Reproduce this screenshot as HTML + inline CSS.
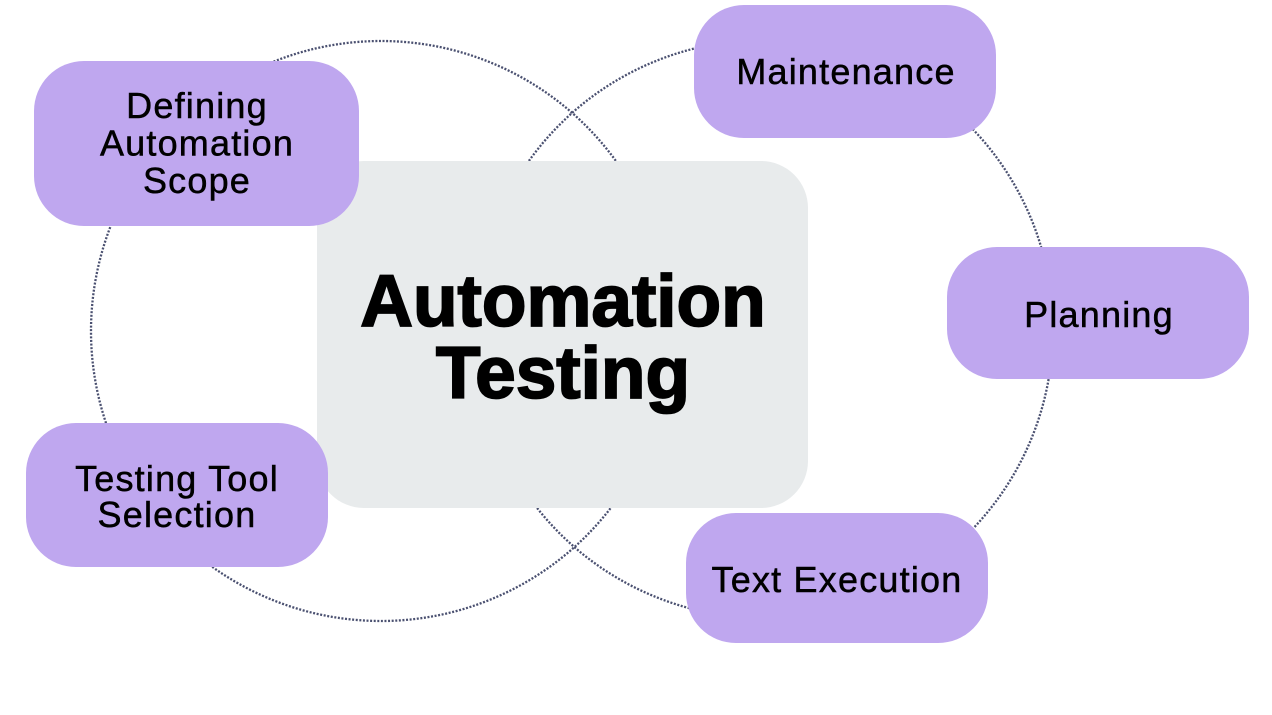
<!DOCTYPE html>
<html>
<head>
<meta charset="utf-8">
<style>
  html, body { margin: 0; padding: 0; background: #ffffff; }
  body { width: 1272px; height: 715px; overflow: hidden; }
  svg { display: block; }
  .lbl { font-family: "Liberation Sans", sans-serif; font-size: 36px; fill: #000; stroke: #000; stroke-width: 0.5px; letter-spacing: 1.2px; }
  .big { font-family: "Liberation Sans", sans-serif; font-size: 73px; font-weight: bold; fill: #000; stroke: #000; stroke-width: 1.8px; }
</style>
</head>
<body>
<svg width="1272" height="715" viewBox="0 0 1272 715" xmlns="http://www.w3.org/2000/svg">
  <rect x="0" y="0" width="1272" height="715" fill="#ffffff"/>
  <!-- dotted circles -->
  <circle cx="381" cy="331" r="290" fill="none" stroke="#4a5070" stroke-width="2.3" stroke-dasharray="2 1.6"/>
  <circle cx="764" cy="329" r="289" fill="none" stroke="#4a5070" stroke-width="2.3" stroke-dasharray="2 1.6"/>

  <!-- center box -->
  <rect x="317" y="161" width="491" height="347" rx="47" ry="47" fill="#e8ebec"/>
  <text class="big" x="563" y="326" text-anchor="middle">Automation</text>
  <text class="big" x="563" y="398" text-anchor="middle">Testing</text>

  <!-- purple boxes -->
  <rect x="34" y="61" width="325" height="165" rx="50" ry="50" fill="#bfa7ef"/>
  <text class="lbl" x="197" y="118" text-anchor="middle">Defining</text>
  <text class="lbl" x="197" y="155.5" text-anchor="middle">Automation</text>
  <text class="lbl" x="197" y="193" text-anchor="middle">Scope</text>

  <rect x="694" y="5" width="302" height="133" rx="50" ry="50" fill="#bfa7ef"/>
  <text class="lbl" x="846" y="84" text-anchor="middle">Maintenance</text>

  <rect x="947" y="247" width="302" height="132" rx="50" ry="50" fill="#bfa7ef"/>
  <text class="lbl" x="1099" y="327" text-anchor="middle">Planning</text>

  <rect x="26" y="423" width="302" height="144" rx="50" ry="50" fill="#bfa7ef"/>
  <text class="lbl" x="177" y="491" text-anchor="middle">Testing Tool</text>
  <text class="lbl" x="177" y="527" text-anchor="middle">Selection</text>

  <rect x="686" y="513" width="302" height="130" rx="50" ry="50" fill="#bfa7ef"/>
  <text class="lbl" x="837" y="592" text-anchor="middle">Text Execution</text>
</svg>
</body>
</html>
